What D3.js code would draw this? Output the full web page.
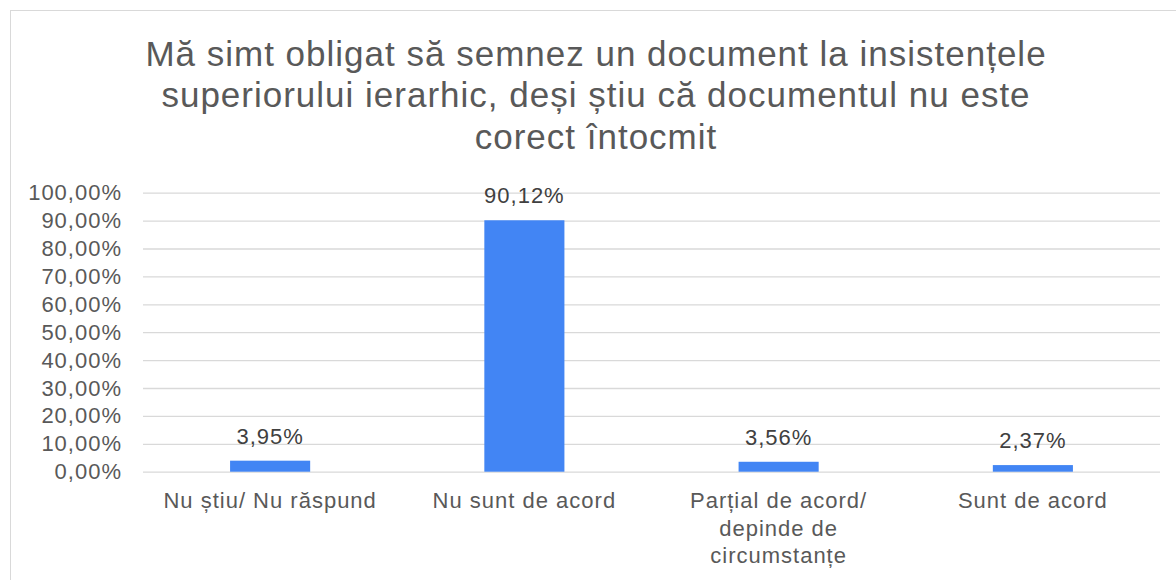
<html lang="ro">
<head>
<meta charset="UTF-8">
<script src="https://d3js.org/d3.v7.min.js"></script>
<style>
  body { margin: 0; background: #fff; }
  text { font-family: "Liberation Sans", Arial, sans-serif; letter-spacing: 1px; }
</style>
</head>
<body>
<div id="here"></div>
<script>
  const titleLines = [
    "Mă simt obligat să semnez un document la insistențele",
    "superiorului ierarhic, deși știu că documentul nu este",
    "corect întocmit"
  ];
  const categories = ["Nu știu/ Nu răspund", "Nu sunt de acord", "Parțial de acord/ depinde de circumstanțe", "Sunt de acord"];
  const values = [3.95, 90.12, 3.56, 2.37];
  const yTicks = [0, 10, 20, 30, 40, 50, 60, 70, 80, 90, 100];

  const W = 1176, H = 580;
  const plot = { left: 143, right: 1160, top: 192.7, bottom: 471.7 };

  const fmt = v => v.toFixed(2).replace(".", ",") + "%";

  const svg = d3.select("#here").append("svg")
    .attr("width", W)
    .attr("height", H);

  // chart area border
  svg.append("rect")
    .attr("x", 10.5).attr("y", 10.5)
    .attr("width", 1170).attr("height", 620)
    .attr("fill", "#fff")
    .attr("stroke", "#d9d9d9");

  svg.append("g").selectAll("text")
    .data(titleLines)
    .join("text")
    .attr("x", 596)
    .attr("y", (d, i) => 65.5 + i * 41.5)
    .attr("text-anchor", "middle")
    .attr("font-size", 35)
    .attr("fill", "#595959")
    .text(d => d);

  const x = d3.scaleBand()
    .domain(categories)
    .range([plot.left, plot.right])
    .paddingInner(0.685)
    .paddingOuter(0.3425);

  const y = d3.scaleLinear()
    .domain([0, 100])
    .range([plot.bottom, plot.top]);

  // gridlines + labels
  const yAxis = svg.append("g")
    .attr("transform", `translate(${plot.left},0)`)
    .call(d3.axisLeft(y).tickValues(yTicks).tickFormat(d => fmt(d))
      .tickSize(-(plot.right - plot.left)).tickPadding(21));
  yAxis.select(".domain").remove();
  yAxis.selectAll(".tick line").attr("stroke", "#d9d9d9").attr("stroke-width", 1.3);
  yAxis.selectAll(".tick text")
    .attr("font-size", 22)
    .attr("fill", "#595959")
    .attr("font-family", "Liberation Sans, Arial, sans-serif");

  svg.append("g").selectAll("rect")
    .data(values)
    .join("rect")
    .attr("x", (d, i) => x(categories[i]))
    .attr("y", d => y(d))
    .attr("width", x.bandwidth())
    .attr("height", d => y(0) - y(d))
    .attr("fill", "#4285f4");

  svg.append("g").selectAll("text")
    .data(values)
    .join("text")
    .attr("x", (d, i) => x(categories[i]) + x.bandwidth() / 2)
    .attr("y", d => y(d) - 17)
    .attr("text-anchor", "middle")
    .attr("font-size", 22)
    .attr("fill", "#404040")
    .text(d => fmt(d));

  // category labels, wrapped
  const xl = svg.append("g");
  categories.forEach(c => {
    const cx = x(c) + x.bandwidth() / 2;
    const t = xl.append("text")
      .attr("x", cx).attr("y", 508)
      .attr("text-anchor", "middle")
      .attr("font-size", 22)
      .attr("fill", "#595959");
    const words = c.split(" ");
    let line = [], lineNo = 0;
    let ts = t.append("tspan").attr("x", cx).attr("y", 508);
    words.forEach(w => {
      line.push(w);
      ts.text(line.join(" "));
      if (ts.node().getComputedTextLength() > 225 && line.length > 1) {
        line.pop();
        ts.text(line.join(" "));
        line = [w];
        lineNo++;
        ts = t.append("tspan").attr("x", cx).attr("y", 508 + lineNo * 27.5).text(w);
      }
    });
  });
</script>
</body>
</html>
